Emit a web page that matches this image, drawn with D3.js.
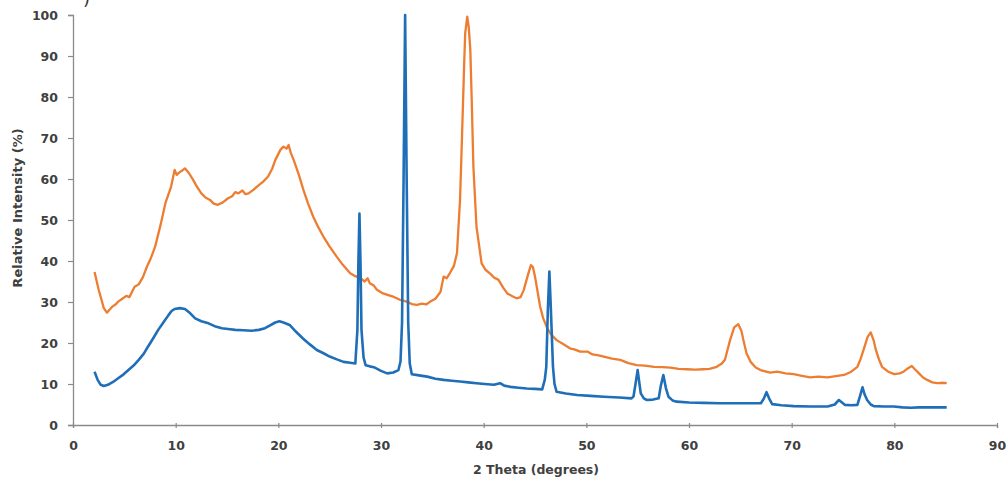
<!DOCTYPE html>
<html>
<head>
<meta charset="utf-8">
<script src="https://cdn.jsdelivr.net/npm/d3@7"></script>
<style>
  html, body { margin: 0; padding: 0; background: #ffffff; }
  svg { display: block; }
  .tick text { font-family: "DejaVu Sans", sans-serif; font-weight: bold; fill: #404040; }
</style>
</head>
<body>
<svg id="chart" width="1008" height="478"></svg>
<script>
// ---- data ----
const xTicks = [0, 10, 20, 30, 40, 50, 60, 70, 80, 90];
const yTicks = [0, 10, 20, 30, 40, 50, 60, 70, 80, 90, 100];
const xTitle = "2 Theta  (degrees)";
const yTitle = "Relative Intensity (%)";

// orange pattern: [2θ, relative intensity %]
const orangeSeries = [
 [2.1,37.3],[2.5,33],[3.0,28.5],[3.3,27.4],[3.8,28.8],[4.2,29.5],[4.4,30.1],[4.8,30.8],[5.2,31.5],[5.5,31.2],
 [6.0,33.7],[6.4,34.3],[6.8,36.0],[7.2,38.6],[7.6,40.8],[8.0,43.5],[8.5,48.5],[9.0,54.1],[9.55,58.1],[9.9,62.2],
 [10.1,61.0],[10.3,61.5],[10.6,62.0],[10.9,62.6],[11.3,61.4],[11.7,59.8],[12.1,58.0],[12.5,56.5],[12.9,55.5],[13.35,54.9],
 [13.7,54.0],[14.1,53.7],[14.6,54.3],[15.1,55.3],[15.5,55.8],[15.8,56.8],[16.1,56.5],[16.5,57.2],[16.8,56.3],[17.1,56.5],
 [17.6,57.4],[18.1,58.5],[18.5,59.3],[19.0,60.6],[19.4,62.5],[19.7,64.6],[20.2,67.1],[20.5,67.9],[20.8,67.4],[21.0,68.3],
 [21.2,66.5],[21.5,64.6],[22.0,61.0],[22.45,57.3],[22.9,54.0],[23.4,50.8],[23.9,48.2],[24.4,45.9],[25.0,43.5],[25.7,41.0],
 [26.3,39.0],[27.0,37.0],[27.5,36.3],[28.0,35.8],[28.4,35.0],[28.7,35.8],[28.9,34.6],[29.3,34.0],[29.6,33.0],[30.2,32.1],
 [30.7,31.7],[31.2,31.3],[31.8,30.6],[32.5,30.1],[33.0,29.5],[33.5,29.3],[34.0,29.6],[34.4,29.4],[34.8,30.1],[35.3,30.8],
 [35.8,32.5],[36.1,36.2],[36.4,35.8],[36.7,37.0],[37.1,38.8],[37.4,41.9],[37.7,55],[37.9,71.1],[38.1,88],[38.2,95.5],
 [38.4,99.6],[38.55,97],[38.7,91.5],[38.85,78],[39.0,63],[39.3,48.4],[39.8,39.4],[40.2,37.8],[40.6,37.0],[41.0,36.0],
 [41.45,35.4],[41.9,33.5],[42.3,32.1],[42.8,31.4],[43.2,30.9],[43.6,31.2],[43.9,32.9],[44.3,36.5],[44.6,39.0],[44.8,38.5],
 [45.0,36.2],[45.5,28.9],[45.8,26.0],[46.2,23.6],[46.6,22.0],[47.1,20.7],[47.7,19.8],[48.4,18.7],[48.9,18.4],[49.4,17.9],
 [50.1,17.9],[50.6,17.2],[51.2,17.0],[51.7,16.7],[52.5,16.2],[53.3,15.9],[54.1,15.1],[54.9,14.6],[55.7,14.5],[56.6,14.2],
 [57.4,14.1],[58.2,14.0],[59.0,13.7],[59.8,13.6],[60.6,13.5],[61.4,13.6],[62.0,13.7],[62.7,14.2],[63.2,15.0],[63.5,15.9],
 [64.0,20.7],[64.4,23.8],[64.8,24.6],[65.1,23.0],[65.3,20.7],[65.6,17.5],[66.0,15.4],[66.5,14.0],[66.96,13.4],[67.9,12.8],
 [68.6,13.0],[69.4,12.6],[70.2,12.4],[71.0,12.0],[71.8,11.6],[72.6,11.8],[73.5,11.6],[74.3,11.9],[75.1,12.2],[75.8,13.0],
 [76.4,14.2],[76.7,16.0],[77.0,18.3],[77.4,21.5],[77.7,22.6],[78.0,20.5],[78.2,18.3],[78.5,16.0],[78.8,14.2],[79.4,13.0],
 [80.0,12.4],[80.5,12.6],[80.9,13.0],[81.3,13.8],[81.7,14.4],[82.0,13.6],[82.4,12.6],[82.8,11.6],[83.2,11.0],[83.7,10.4],
 [84.2,10.2],[84.6,10.3],[85.1,10.2]
];

// blue pattern: [2θ, relative intensity %]
const blueSeries = [
 [2.1,13.0],[2.4,11.0],[2.7,9.8],[3.0,9.5],[3.4,9.8],[3.9,10.5],[4.4,11.4],[4.9,12.3],[5.4,13.4],[5.9,14.5],
 [6.4,15.9],[6.9,17.4],[7.3,19.1],[7.8,21.1],[8.3,23.2],[8.8,25.0],[9.3,26.8],[9.6,27.8],[9.9,28.3],[10.4,28.5],
 [10.9,28.3],[11.4,27.3],[11.9,26.0],[12.5,25.3],[13.2,24.8],[13.8,24.1],[14.5,23.6],[15.1,23.4],[15.8,23.2],[16.6,23.1],
 [17.4,23.0],[18.1,23.2],[18.7,23.6],[19.2,24.3],[19.7,25.0],[20.1,25.3],[20.5,25.0],[21.1,24.4],[21.7,22.8],[22.4,21.1],
 [23.1,19.6],[23.75,18.3],[24.4,17.5],[25.0,16.7],[25.7,16.0],[26.35,15.4],[27.0,15.2],[27.5,15.0],[27.7,23.2],[27.8,40],
 [27.9,51.6],[28.0,40],[28.1,23.2],[28.3,16.5],[28.5,14.6],[28.9,14.3],[29.3,14.1],[30.0,13.2],[30.6,12.6],[31.2,12.8],
 [31.7,13.4],[31.9,15.5],[32.05,25],[32.2,60],[32.35,100],[32.5,60],[32.65,25],[32.8,15.0],[33.0,12.4],[33.7,12.1],
 [34.5,11.8],[35.3,11.3],[36.1,11.0],[36.9,10.8],[37.7,10.6],[38.5,10.4],[39.3,10.2],[40.1,10.0],[41.0,9.8],[41.6,10.2],
 [42.0,9.6],[42.6,9.3],[43.4,9.1],[44.2,8.9],[45.0,8.8],[45.7,8.7],[45.95,11],[46.1,14.2],[46.25,28],[46.4,37.4],
 [46.55,28],[46.75,14.2],[46.9,10],[47.1,8.1],[48.0,7.7],[49.1,7.3],[50.4,7.1],[51.7,6.9],[53.2,6.7],[54.4,6.5],
 [54.6,7.0],[54.8,10.2],[55.0,13.4],[55.15,10.5],[55.3,7.7],[55.6,6.5],[55.9,6.1],[56.5,6.2],[57.05,6.5],[57.25,9.5],
 [57.5,12.2],[57.75,9],[58.0,6.9],[58.4,6.0],[58.8,5.7],[60.0,5.5],[61.4,5.4],[63.0,5.3],[64.7,5.3],[66.0,5.3],
 [67.0,5.3],[67.3,6.5],[67.55,8.0],[67.8,6.5],[68.1,5.1],[69.0,4.8],[70.2,4.6],[71.8,4.5],[73.5,4.5],[74.2,5.0],
 [74.6,6.1],[74.9,5.5],[75.2,4.9],[75.8,4.8],[76.4,4.9],[76.65,7.0],[76.9,9.2],[77.1,7.5],[77.35,6.1],[77.7,5.0],
 [78.0,4.6],[79.0,4.5],[79.95,4.5],[80.8,4.3],[81.6,4.2],[82.4,4.3],[83.2,4.3],[84.2,4.3],[85.1,4.3]
];

// ---- drawing ----
const svg = d3.select("#chart");
const plotLeft = 73, plotRight = 997, plotTop = 15, plotBottom = 425;

const x = d3.scaleLinear().domain([0, 90]).range([plotLeft, plotRight]);
const y = d3.scaleLinear().domain([0, 100]).range([plotBottom, plotTop]);

const axisColor = "#8a8a8a";

// y axis
const gy = svg.append("g")
  .attr("transform", `translate(${plotLeft},0)`)
  .call(d3.axisLeft(y).tickValues(yTicks).tickSize(5).tickPadding(10));
gy.select(".domain").attr("stroke", axisColor).attr("stroke-width", 1.3);
gy.selectAll(".tick line").attr("stroke", axisColor).attr("stroke-width", 1.2);
gy.selectAll(".tick text").attr("font-size", 12.5);

// x axis
const gx = svg.append("g")
  .attr("transform", `translate(0,${plotBottom})`)
  .call(d3.axisBottom(x).tickValues(xTicks).tickSize(3).tickPadding(13));
gx.select(".domain").attr("stroke", axisColor).attr("stroke-width", 1.3);
gx.selectAll(".tick line").attr("stroke", axisColor).attr("stroke-width", 1.2).attr("y1", -2);
gx.selectAll(".tick text").attr("font-size", 12.5);

// series lines
const line = d3.line().x(d => x(d[0])).y(d => y(d[1]));

svg.append("path")
  .datum(orangeSeries)
  .attr("fill", "none")
  .attr("stroke", "#ED7D31")
  .attr("stroke-width", 2.3)
  .attr("stroke-linejoin", "round")
  .attr("d", line);

svg.append("path")
  .datum(blueSeries)
  .attr("fill", "none")
  .attr("stroke", "#1F6EB8")
  .attr("stroke-width", 2.6)
  .attr("stroke-linejoin", "round")
  .attr("d", line);

// axis titles
svg.append("text")
  .attr("transform", `translate(22,208) rotate(-90)`)
  .attr("text-anchor", "middle")
  .attr("font-family", "DejaVu Sans, sans-serif")
  .attr("font-weight", "bold")
  .attr("font-size", 13)
  .attr("fill", "#404040")
  .text(yTitle);

svg.append("text")
  .attr("x", 536)
  .attr("y", 474)
  .attr("text-anchor", "middle")
  .attr("font-family", "DejaVu Sans, sans-serif")
  .attr("font-weight", "bold")
  .attr("font-size", 12.5)
  .attr("fill", "#404040")
  .text(xTitle);

// partially visible glyph at the very top-left of the reference image
svg.append("text")
  .attr("x", 83)
  .attr("y", 5)
  .attr("font-family", "DejaVu Sans, sans-serif")
  .attr("font-size", 18)
  .attr("fill", "#333")
  .text(")");
</script>
</body>
</html>
